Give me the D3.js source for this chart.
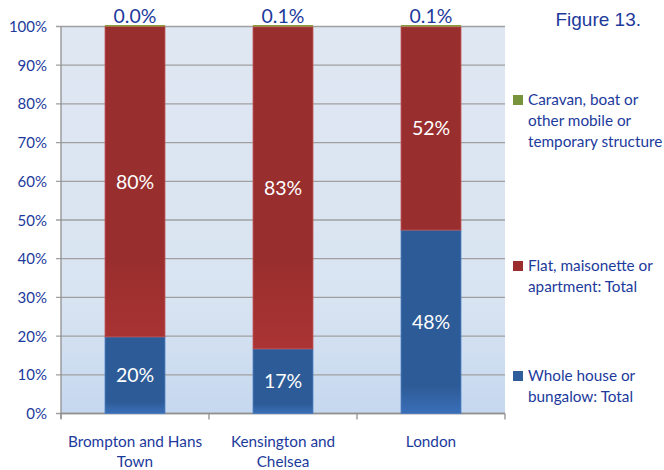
<!DOCTYPE html>
<html><head><meta charset="utf-8">
<script src="https://cdn.jsdelivr.net/npm/d3@7"></script>
<style>body{margin:0;background:#fff;} svg{display:block;}</style>
</head><body>
<svg id="c" width="664" height="470"></svg>
<script>
const categories = [["Brompton and Hans", "Town"], ["Kensington and", "Chelsea"], ["London"]];
const house = [19.8, 16.7, 47.4];
const flat = [80.2, 83.2, 52.5];
const caravan = [0.0, 0.1, 0.1];
const topLabels = ["0.0%", "0.1%", "0.1%"];
const houseLabels = ["20%", "17%", "48%"];
const flatLabels = ["80%", "83%", "52%"];
const yTicks = [0,10,20,30,40,50,60,70,80,90,100];
const legendItems = [
  {name:["Caravan, boat or","other mobile or","temporary structure"], color:"#77933c"},
  {name:["Flat, maisonette or","apartment: Total"], color:"#9c2d2d"},
  {name:["Whole house or","bungalow: Total"], color:"#2e5d99"}
];

const svg = d3.select("#c");
const L=61, R=505, T=26.5, B=413.5;
const font = "Lato, 'Open Sans', sans-serif";
const textCol = "#1c3a9c";

const defs = svg.append("defs");
const bg = defs.append("linearGradient").attr("id","bg").attr("x1",0).attr("y1",0).attr("x2",0).attr("y2",1);
bg.append("stop").attr("offset","0").attr("stop-color","#dfe7f2");
bg.append("stop").attr("offset","0.7").attr("stop-color","#d9e4f2");
bg.append("stop").attr("offset","1").attr("stop-color","#c5d8ef");
const gb = defs.append("linearGradient").attr("id","gblue").attr("x1",0).attr("y1",0).attr("x2",0).attr("y2",1);
gb.append("stop").attr("offset","0").attr("stop-color","#2d5b97");
gb.append("stop").attr("offset","0.85").attr("stop-color","#2d5b97");
gb.append("stop").attr("offset","1").attr("stop-color","#3a6fb8");
const gr = defs.append("linearGradient").attr("id","gred").attr("gradientUnits","userSpaceOnUse").attr("x1",0).attr("y1",T).attr("x2",0).attr("y2",B);
gr.append("stop").attr("offset","0").attr("stop-color","#992e2e");
gr.append("stop").attr("offset","0.6").attr("stop-color","#992e2e");
gr.append("stop").attr("offset","0.85").attr("stop-color","#ac3434");
gr.append("stop").attr("offset","1").attr("stop-color","#b03838");

const x = d3.scaleBand().domain(d3.range(categories.length)).range([L,R]).paddingInner(0.595).paddingOuter(0.2975);
const y = d3.scaleLinear().domain([0,100]).range([B,T]);

svg.append("rect").attr("x",L).attr("y",T).attr("width",R-L).attr("height",B-T).attr("fill","url(#bg)");

svg.append("g").selectAll("line").data(yTicks).join("line")
  .attr("x1",L-5).attr("x2",R).attr("y1",d=>y(d)).attr("y2",d=>y(d))
  .attr("stroke","#a0a0a0").attr("stroke-width",1.3);

svg.append("g").selectAll("text").data(yTicks).join("text")
  .attr("x",L-14).attr("y",d=>y(d)+5.5).attr("text-anchor","end")
  .attr("font-family",font).attr("font-size",15).attr("fill",textCol).text(d=>d+"%");

// axes lines
svg.append("line").attr("x1",L).attr("x2",L).attr("y1",T).attr("y2",B+5).attr("stroke","#909090").attr("stroke-width",1.3);
svg.append("line").attr("x1",L).attr("x2",R).attr("y1",B).attr("y2",B).attr("stroke","#909090").attr("stroke-width",1.3);
const step = x.step();
svg.append("g").selectAll("line").data(d3.range(categories.length+1)).join("line")
  .attr("x1",i=>L+i*step).attr("x2",i=>L+i*step).attr("y1",B).attr("y2",B+6)
  .attr("stroke","#909090").attr("stroke-width",1.3);

const idx = d3.range(categories.length);
const g = svg.append("g");
// house
g.selectAll(".h").data(idx).join("rect")
  .attr("x",i=>x(i)).attr("width",x.bandwidth())
  .attr("y",i=>y(house[i])).attr("height",i=>y(0)-y(house[i]))
  .attr("fill","url(#gblue)").attr("stroke","#4a7cc0").attr("stroke-width",0.8);
// flat
g.selectAll(".f").data(idx).join("rect")
  .attr("x",i=>x(i)).attr("width",x.bandwidth())
  .attr("y",i=>y(house[i]+flat[i])).attr("height",i=>y(house[i])-y(house[i]+flat[i]))
  .attr("fill","url(#gred)").attr("stroke","#c05050").attr("stroke-width",0.8);
// caravan
g.selectAll(".c").data(idx).join("rect")
  .attr("x",i=>x(i)).attr("width",x.bandwidth())
  .attr("y",i=>y(house[i]+flat[i]+caravan[i])-1.5).attr("height",i=>Math.max(1.5,y(house[i]+flat[i])-y(house[i]+flat[i]+caravan[i])))
  .attr("fill","#8a9a3c");

// labels
g.selectAll(".lt").data(idx).join("text")
  .attr("x",i=>x(i)+x.bandwidth()/2).attr("y",23).attr("text-anchor","middle")
  .attr("font-family",font).attr("font-size",19.5).attr("fill",textCol).text(i=>topLabels[i]);
g.selectAll(".lh").data(idx).join("text")
  .attr("x",i=>x(i)+x.bandwidth()/2).attr("y",i=>y(house[i]/2)+7).attr("text-anchor","middle")
  .attr("font-family",font).attr("font-size",19.5).attr("fill","#fff").text(i=>houseLabels[i]);
g.selectAll(".lf").data(idx).join("text")
  .attr("x",i=>x(i)+x.bandwidth()/2).attr("y",i=>y(house[i]+flat[i]/2)+7).attr("text-anchor","middle")
  .attr("font-family",font).attr("font-size",19.5).attr("fill","#fff").text(i=>flatLabels[i]);

// category labels
const cl = svg.append("g").selectAll("text").data(idx).join("text")
  .attr("x",i=>x(i)+x.bandwidth()/2).attr("y",447).attr("text-anchor","middle")
  .attr("font-family",font).attr("font-size",15.3).attr("fill",textCol);
cl.selectAll("tspan").data(i=>categories[i]).join("tspan")
  .attr("x",function(){return d3.select(this.parentNode).attr("x");})
  .attr("dy",(d,j)=>j===0?0:20).text(d=>d);

// title
svg.append("text").attr("x",641).attr("y",26).attr("text-anchor","end")
  .attr("font-family","'Liberation Sans', Arial, sans-serif").attr("font-size",19).attr("fill",textCol).text("Figure 13.");

// legend
const legY = [105, 271, 381];
legendItems.forEach((it,k)=>{
  const gy = legY[k];
  svg.append("rect").attr("x",513).attr("y",gy-10).attr("width",10).attr("height",10).attr("fill",it.color);
  const t = svg.append("text").attr("x",528).attr("y",gy).attr("font-family",font).attr("font-size",15.3).attr("fill",textCol);
  it.name.forEach((s,j)=>t.append("tspan").attr("x",528).attr("dy",j===0?0:21).text(s));
});
</script>
</body></html>
